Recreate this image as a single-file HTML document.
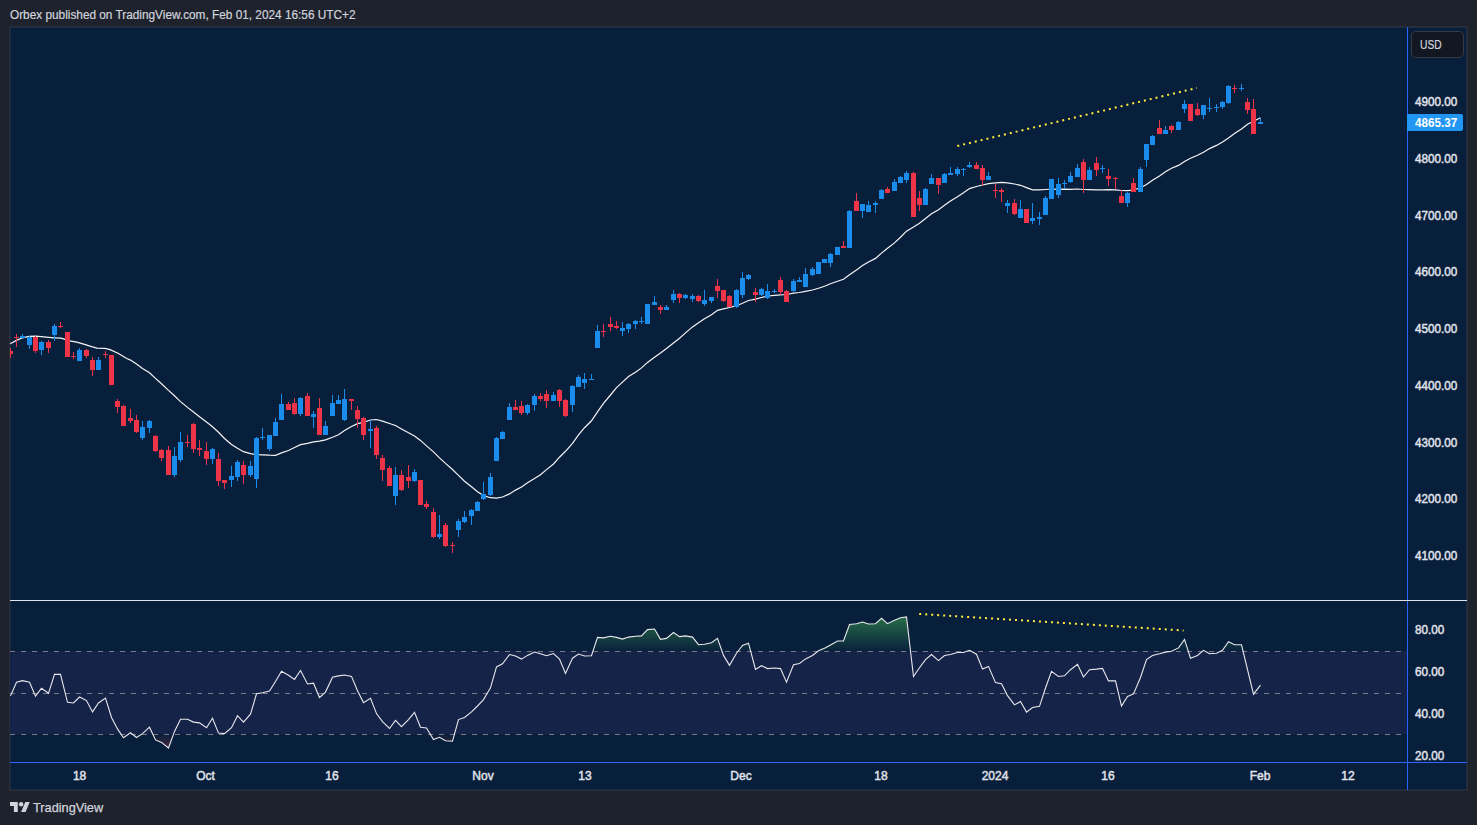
<!DOCTYPE html>
<html><head><meta charset="utf-8">
<style>
html,body{margin:0;padding:0;}
body{width:1477px;height:825px;background:#1e222d;position:relative;overflow:hidden;font-family:"Liberation Sans",sans-serif;}
.hdr{position:absolute;left:10px;top:8px;font-size:12.5px;color:#d1d4dc;white-space:nowrap;transform-origin:0 0;transform:scaleX(0.945);-webkit-text-stroke:0.2px #d1d4dc;}
.frame{position:absolute;left:9px;top:26px;width:1459px;height:765px;box-sizing:border-box;border:1px solid #2a2e39;background:#081f3b;box-shadow:inset 0 0 0 1px #1c2a42;}
.tl{position:absolute;top:769px;width:60px;text-align:center;color:#e0e3eb;font-size:12px;-webkit-text-stroke:0.45px #e0e3eb;}
.pl{position:absolute;left:1414.6px;color:#e0e3eb;font-size:12px;line-height:14px;transform-origin:0 0;transform:scaleX(0.975);-webkit-text-stroke:0.45px #e0e3eb;}
.usd{position:absolute;left:1410.5px;top:30.5px;width:53px;height:27px;border:1px solid #363a45;border-radius:5px;background:#131722;box-sizing:border-box;}
.usd span{position:absolute;left:8px;top:5.5px;color:#d1d4dc;font-size:13px;transform-origin:0 0;transform:scaleX(0.79);-webkit-text-stroke:0.2px #d1d4dc;}
.last{position:absolute;left:1407px;top:114px;width:56px;height:17px;background:#2196f3;border-radius:0 2px 2px 0;}
.last span{position:absolute;left:7.6px;top:1.5px;color:#fff;font-size:12px;font-weight:bold;transform-origin:0 0;transform:scaleX(0.975);}
.foot{position:absolute;left:33px;top:799.5px;color:#d1d4dc;font-size:13px;transform-origin:0 0;transform:scaleX(0.98);-webkit-text-stroke:0.25px #d1d4dc;}
svg{position:absolute;left:0;top:0;}
</style></head>
<body>
<div class="hdr">Orbex published on TradingView.com, Feb 01, 2024 16:56 UTC+2</div>
<div class="frame"></div>
<svg width="1477" height="825" viewBox="0 0 1477 825">
<defs><clipPath id="cp"><rect x="10" y="27" width="1397" height="735"/></clipPath></defs>
<g clip-path="url(#cp)">
<rect x="10" y="651" width="1397" height="83" fill="#162349"/>
<line x1="10" y1="651.5" x2="1407" y2="651.5" stroke="#787b86" stroke-width="1" stroke-dasharray="5 6"/>
<line x1="10" y1="693.5" x2="1407" y2="693.5" stroke="#787b86" stroke-width="1" stroke-dasharray="5 6"/>
<line x1="10" y1="734.5" x2="1407" y2="734.5" stroke="#787b86" stroke-width="1" stroke-dasharray="5 6"/>
<defs><linearGradient id="gg" gradientUnits="userSpaceOnUse" x1="0" y1="616" x2="0" y2="652"><stop offset="0" stop-color="#2e7d4a" stop-opacity="0.85"/><stop offset="1" stop-color="#2e7d4a" stop-opacity="0.0"/></linearGradient><linearGradient id="rg" gradientUnits="userSpaceOnUse" x1="0" y1="734" x2="0" y2="750"><stop offset="0" stop-color="#5a2a3a" stop-opacity="0"/><stop offset="1" stop-color="#5a2a3a" stop-opacity="0.8"/></linearGradient></defs>
<polygon points="592.9,651.3 597.5,637.4 603.5,637.9 610.5,636.2 616.5,637.4 622.5,639.1 628.5,637.1 635.5,636.2 641.5,635.9 647.5,629.6 654.5,629.0 660.5,639.3 666.5,638.4 673.5,632.5 679.5,636.6 685.5,635.9 692.5,637.1 698.5,644.7 704.5,644.2 711.5,642.7 717.5,638.4 722.1,651.3 722.1,651.3 592.9,651.3" fill="url(#gg)"/>
<polygon points="738.0,651.3 742.5,645.4 748.5,643.2 750.7,651.3 750.7,651.3 738.0,651.3" fill="url(#gg)"/>
<polygon points="817.8,651.3 818.5,650.8 824.5,648.2 830.5,644.9 837.5,641.0 843.5,641.0 849.5,624.5 856.5,623.7 862.5,622.0 868.5,624.0 875.5,623.7 881.5,618.3 887.5,623.7 894.5,620.3 900.5,617.8 906.5,616.9 910.5,651.3 910.5,651.3 817.8,651.3" fill="url(#gg)"/>
<polygon points="966.7,651.3 969.5,650.3 971.4,651.3 971.4,651.3 966.7,651.3" fill="url(#gg)"/>
<polygon points="1171.4,651.3 1171.5,651.3 1178.5,647.9 1184.5,639.4 1188.3,651.3 1188.3,651.3 1171.4,651.3" fill="url(#gg)"/>
<polygon points="1202.3,651.3 1203.5,650.3 1205.3,651.3 1205.3,651.3 1202.3,651.3" fill="url(#gg)"/>
<polygon points="1220.5,651.3 1222.5,650.3 1228.5,641.8 1234.5,644.8 1241.5,644.8 1243.1,651.3 1243.1,651.3 1220.5,651.3" fill="url(#gg)"/>
<polygon points="121.4,734.6 123.5,737.7 127.9,734.6 127.9,734.6 121.4,734.6" fill="url(#rg)"/>
<polygon points="132.8,734.6 136.5,737.5 141.0,734.6 141.0,734.6 132.8,734.6" fill="url(#rg)"/>
<polygon points="153.0,734.6 155.5,739.9 161.5,742.4 168.5,748.0 173.3,734.6 173.3,734.6 153.0,734.6" fill="url(#rg)"/>
<polygon points="430.5,734.6 433.5,739.5 439.5,737.3 445.5,740.7 452.5,741.2 454.3,734.6 454.3,734.6 430.5,734.6" fill="url(#rg)"/>
<polyline points="10.5,695.9 16.5,682.3 22.5,680.6 29.5,682.3 35.5,696.2 41.5,688.2 48.5,693.3 54.5,674.4 60.5,674.4 67.5,702.3 73.5,703.0 79.5,697.0 86.5,700.6 92.5,711.9 98.5,703.0 105.5,698.1 111.5,717.5 117.5,728.9 123.5,737.7 130.5,732.8 136.5,737.5 142.5,733.6 149.5,727.2 155.5,739.9 161.5,742.4 168.5,748.0 174.5,731.4 180.5,719.2 187.5,719.2 193.5,722.1 199.5,722.9 206.5,727.7 212.5,718.2 218.5,733.1 224.5,733.6 231.5,727.7 237.5,715.7 243.5,722.1 250.5,714.2 256.5,693.8 262.5,692.8 269.5,691.1 275.5,681.5 281.5,671.3 288.5,675.2 294.5,679.4 300.5,670.5 307.5,684.0 313.5,683.2 319.5,697.5 325.5,692.1 332.5,677.2 338.5,675.9 344.5,675.0 351.5,676.4 357.5,690.8 363.5,702.6 370.5,698.4 376.5,713.6 382.5,721.6 389.5,728.5 395.5,720.4 401.5,726.7 408.5,719.6 414.5,712.4 420.5,727.2 426.5,728.0 433.5,739.5 439.5,737.3 445.5,740.7 452.5,741.2 458.5,719.6 464.5,717.5 471.5,711.9 477.5,706.0 483.5,699.6 490.5,687.9 496.5,666.9 502.5,663.8 509.5,654.5 515.5,656.0 521.5,659.1 527.5,655.4 534.5,652.0 540.5,653.7 546.5,655.7 553.5,653.5 559.5,659.1 565.5,673.5 572.5,658.2 578.5,654.0 584.5,656.0 591.5,655.7 597.5,637.4 603.5,637.9 610.5,636.2 616.5,637.4 622.5,639.1 628.5,637.1 635.5,636.2 641.5,635.9 647.5,629.6 654.5,629.0 660.5,639.3 666.5,638.4 673.5,632.5 679.5,636.6 685.5,635.9 692.5,637.1 698.5,644.7 704.5,644.2 711.5,642.7 717.5,638.4 723.5,655.4 729.5,665.3 736.5,653.2 742.5,645.4 748.5,643.2 755.5,669.4 761.5,665.7 767.5,668.6 774.5,668.0 780.5,668.6 786.5,682.1 793.5,664.7 799.5,663.5 805.5,658.9 812.5,655.5 818.5,650.8 824.5,648.2 830.5,644.9 837.5,641.0 843.5,641.0 849.5,624.5 856.5,623.7 862.5,622.0 868.5,624.0 875.5,623.7 881.5,618.3 887.5,623.7 894.5,620.3 900.5,617.8 906.5,616.9 913.5,676.5 919.5,667.7 925.5,659.6 931.5,654.5 938.5,660.6 944.5,655.5 950.5,654.5 957.5,652.5 963.5,652.5 969.5,650.3 976.5,654.2 982.5,669.1 988.5,666.4 995.5,682.6 1001.5,683.8 1007.5,695.6 1014.5,704.9 1020.5,701.6 1026.5,712.1 1032.5,707.5 1039.5,706.3 1045.5,688.0 1051.5,671.4 1058.5,676.5 1064.5,675.8 1070.5,669.7 1077.5,664.3 1083.5,677.0 1089.5,669.7 1096.5,669.1 1102.5,668.4 1108.5,680.9 1115.5,680.9 1121.5,706.1 1127.5,696.5 1133.5,693.9 1140.5,677.5 1146.5,659.6 1152.5,655.5 1159.5,653.8 1165.5,652.1 1171.5,651.3 1178.5,647.9 1184.5,639.4 1190.5,658.2 1197.5,655.4 1203.5,650.3 1209.5,653.7 1216.5,653.3 1222.5,650.3 1228.5,641.8 1234.5,644.8 1241.5,644.8 1253.5,694.2 1260.5,685.2" fill="none" stroke="#e8e8ec" stroke-width="1.1" stroke-linejoin="miter"/>
<line x1="957.3" y1="146" x2="1196.8" y2="87.9" stroke="#ffeb3b" stroke-width="2" stroke-dasharray="2 4"/>
<line x1="919.2" y1="613.9" x2="1183.6" y2="630.5" stroke="#ffeb3b" stroke-width="2" stroke-dasharray="2 4"/>
<polyline points="10.2,343.7 16.4,340.4 22.5,337.8 29.1,336.4 35.3,336.2 41.5,336.7 48.5,337.3 54.7,337.8 60.8,338.2 64.3,339.1 69.6,340.8 76.7,342.2 84.6,344.4 91.6,346.6 96.9,348.1 104.8,348.3 110.1,349.6 118.0,353.2 126.8,358.5 130.5,360.1 136.5,364.0 142.5,368.5 149.5,372.7 155.5,378.4 161.5,383.8 168.5,390.4 174.5,395.8 180.5,401.6 187.5,407.4 193.5,412.0 199.5,416.7 206.5,422.1 212.5,426.8 218.5,432.3 224.5,438.5 231.5,444.5 237.5,448.3 243.5,451.7 250.5,453.7 256.5,454.6 262.5,454.8 269.5,455.2 275.5,455.3 281.5,452.9 288.5,450.5 294.5,447.5 300.5,444.6 307.5,443.3 313.5,441.8 319.5,441.1 325.5,439.9 332.5,437.2 338.5,434.7 344.5,430.6 351.5,426.5 357.5,423.6 363.5,422.3 370.5,420.0 376.5,419.5 382.5,421.1 389.5,423.5 395.5,425.5 401.5,428.9 408.5,432.8 414.5,435.9 420.5,440.4 426.5,445.9 433.5,451.9 439.5,457.9 445.5,463.4 452.5,469.5 458.5,475.4 464.5,481.2 471.5,486.8 477.5,491.8 483.5,495.6 490.5,497.7 496.5,498.2 502.5,497.0 509.5,493.9 515.5,490.1 521.5,487.0 527.5,482.7 534.5,478.5 540.5,474.8 546.5,469.6 553.5,464.0 559.5,457.2 565.5,451.3 572.5,443.3 578.5,434.8 584.5,427.7 591.5,420.8 597.5,411.9 603.5,403.4 610.5,395.0 616.5,387.6 622.5,382.1 628.5,376.6 635.5,372.3 641.5,367.9 647.5,362.4 654.5,357.3 660.5,353.0 666.5,348.4 673.5,343.0 679.5,338.2 685.5,332.9 692.5,326.9 698.5,322.7 704.5,318.8 711.5,314.7 717.5,310.3 723.5,308.8 729.5,307.5 736.5,305.7 742.5,303.2 748.5,300.5 755.5,299.1 761.5,297.5 767.5,296.0 774.5,295.4 780.5,294.9 786.5,294.5 793.5,293.2 799.5,292.5 805.5,291.3 812.5,290.0 818.5,288.3 824.5,286.2 830.5,283.8 837.5,281.3 843.5,279.2 849.5,274.7 856.5,269.9 862.5,265.6 868.5,262.0 875.5,258.4 881.5,253.1 887.5,248.3 894.5,242.9 900.5,237.2 906.5,231.2 913.5,227.0 919.5,223.2 925.5,218.6 931.5,213.8 938.5,209.7 944.5,205.2 950.5,200.9 957.5,196.7 963.5,192.8 969.5,188.6 976.5,186.5 982.5,185.0 988.5,183.6 995.5,182.9 1001.5,182.3 1007.5,182.9 1014.5,184.0 1020.5,185.3 1026.5,187.6 1032.5,189.9 1039.5,189.9 1045.5,189.5 1051.5,189.0 1058.5,189.3 1064.5,189.2 1070.5,189.3 1077.5,189.0 1083.5,189.5 1089.5,189.6 1096.5,189.8 1102.5,189.8 1108.5,189.7 1115.5,189.9 1121.5,190.5 1127.5,190.6 1133.5,190.0 1140.5,187.8 1146.5,184.5 1152.5,180.2 1159.5,176.0 1165.5,171.7 1171.5,168.3 1178.5,165.4 1184.5,161.4 1190.5,158.3 1197.5,155.3 1203.5,152.2 1209.5,148.6 1216.5,145.4 1222.5,142.0 1228.5,137.9 1234.5,133.5 1241.5,128.9 1247.5,124.2 1253.5,121.3 1260.5,117.8" fill="none" stroke="#f4f4f6" stroke-width="1.2"/>
<path d="M10 348h1v10h-1z M8 351h5v3h-5z M16 334h1v13h-1z M14 337h5v1h-5z M35 336h1v17h-1z M33 337h5v14h-5z M48 340h1v13h-1z M46 342h5v6h-5z M60 322h1v6h-1z M58 326h5v1h-5z M67 332h1v25h-1z M65 332h5v25h-5z M73 352h1v7h-1z M71 356h5v1h-5z M86 349h1v9h-1z M84 350h5v6h-5z M92 357h1v19h-1z M90 360h5v10h-5z M105 351h1v7h-1z M103 354h5v1h-5z M111 355h1v30h-1z M109 355h5v30h-5z M117 399h1v14h-1z M115 401h5v6h-5z M123 405h1v21h-1z M121 406h5v20h-5z M130 409h1v14h-1z M128 418h5v3h-5z M136 415h1v18h-1z M134 420h5v12h-5z M155 435h1v17h-1z M153 436h5v15h-5z M161 449h1v12h-1z M159 450h5v8h-5z M168 446h1v29h-1z M166 450h5v25h-5z M187 435h1v12h-1z M185 442h5v1h-5z M193 423h1v30h-1z M191 424h5v25h-5z M199 440h1v16h-1z M197 448h5v2h-5z M206 442h1v23h-1z M204 451h5v8h-5z M218 453h1v33h-1z M216 459h5v22h-5z M224 480h1v9h-1z M222 480h5v3h-5z M243 461h1v23h-1z M241 465h5v10h-5z M288 402h1v8h-1z M286 404h5v6h-5z M294 398h1v17h-1z M292 403h5v11h-5z M307 393h1v23h-1z M305 396h5v20h-5z M319 398h1v37h-1z M317 408h5v27h-5z M351 399h1v11h-1z M349 399h5v2h-5z M357 406h1v22h-1z M355 410h5v9h-5z M363 417h1v23h-1z M361 418h5v17h-5z M376 426h1v33h-1z M374 428h5v27h-5z M382 455h1v26h-1z M380 458h5v12h-5z M389 466h1v20h-1z M387 468h5v18h-5z M401 470h1v21h-1z M399 475h5v15h-5z M408 465h1v23h-1z M406 477h5v4h-5z M420 480h1v25h-1z M418 480h5v25h-5z M426 501h1v8h-1z M424 504h5v3h-5z M433 508h1v30h-1z M431 512h5v25h-5z M445 523h1v24h-1z M443 525h5v21h-5z M452 542h1v11h-1z M450 545h5v1h-5z M515 400h1v10h-1z M513 407h5v3h-5z M521 401h1v14h-1z M519 406h5v7h-5z M540 393h1v8h-1z M538 396h5v3h-5z M546 390h1v18h-1z M544 394h5v7h-5z M559 389h1v18h-1z M557 390h5v11h-5z M565 399h1v18h-1z M563 400h5v16h-5z M603 324h1v13h-1z M601 331h5v1h-5z M610 317h1v14h-1z M608 324h5v3h-5z M616 321h1v8h-1z M614 326h5v2h-5z M660 305h1v9h-1z M658 307h5v3h-5z M679 293h1v10h-1z M677 294h5v4h-5z M698 295h1v7h-1z M696 296h5v5h-5z M717 279h1v19h-1z M715 286h5v5h-5z M723 290h1v12h-1z M721 290h5v11h-5z M729 295h1v12h-1z M727 296h5v11h-5z M755 288h1v14h-1z M753 292h5v3h-5z M780 277h1v18h-1z M778 280h5v12h-5z M786 290h1v12h-1z M784 291h5v11h-5z M843 241h1v7h-1z M841 246h5v2h-5z M856 193h1v18h-1z M854 201h5v10h-5z M887 187h1v6h-1z M885 189h5v4h-5z M913 172h1v45h-1z M911 173h5v44h-5z M919 191h1v20h-1z M917 198h5v7h-5z M938 178h1v16h-1z M936 178h5v7h-5z M976 162h1v7h-1z M974 165h5v4h-5z M982 165h1v21h-1z M980 168h5v12h-5z M995 184h1v14h-1z M993 190h5v1h-5z M1001 188h1v14h-1z M999 190h5v2h-5z M1014 199h1v16h-1z M1012 203h5v11h-5z M1026 209h1v14h-1z M1024 209h5v14h-5z M1083 159h1v34h-1z M1081 162h5v18h-5z M1096 157h1v19h-1z M1094 163h5v7h-5z M1108 169h1v17h-1z M1106 176h5v3h-5z M1115 177h1v12h-1z M1113 178h5v1h-5z M1121 190h1v13h-1z M1119 196h5v7h-5z M1133 178h1v14h-1z M1131 183h5v9h-5z M1159 120h1v14h-1z M1157 128h5v6h-5z M1171 125h1v8h-1z M1169 126h5v4h-5z M1190 104h1v17h-1z M1188 104h5v17h-5z M1197 103h1v13h-1z M1195 109h5v6h-5z M1234 85h1v8h-1z M1232 88h5v1h-5z M1247 98h1v16h-1z M1245 102h5v8h-5z M1253 99h1v35h-1z M1251 109h5v25h-5z" fill="#ed3449" shape-rendering="crispEdges"/>
<path d="M22 334h1v4h-1z M20 336h5v2h-5z M29 336h1v13h-1z M27 337h5v8h-5z M41 341h1v14h-1z M39 342h5v8h-5z M54 324h1v17h-1z M52 326h5v9h-5z M79 348h1v13h-1z M77 350h5v11h-5z M98 357h1v13h-1z M96 360h5v10h-5z M142 421h1v19h-1z M140 427h5v11h-5z M149 420h1v13h-1z M147 421h5v7h-5z M174 447h1v30h-1z M172 456h5v19h-5z M180 432h1v30h-1z M178 442h5v18h-5z M212 448h1v16h-1z M210 449h5v10h-5z M231 466h1v21h-1z M229 476h5v4h-5z M237 460h1v21h-1z M235 462h5v15h-5z M250 461h1v16h-1z M248 466h5v9h-5z M256 437h1v51h-1z M254 438h5v41h-5z M262 428h1v12h-1z M260 437h5v1h-5z M269 435h1v16h-1z M267 435h5v14h-5z M275 418h1v18h-1z M273 422h5v14h-5z M281 394h1v26h-1z M279 404h5v16h-5z M300 397h1v19h-1z M298 398h5v16h-5z M313 411h1v17h-1z M311 414h5v3h-5z M325 421h1v14h-1z M323 426h5v9h-5z M332 395h1v21h-1z M330 403h5v13h-5z M338 395h1v9h-1z M336 400h5v4h-5z M344 389h1v32h-1z M342 399h5v21h-5z M370 420h1v28h-1z M368 429h5v2h-5z M395 467h1v38h-1z M393 475h5v21h-5z M414 469h1v13h-1z M412 472h5v9h-5z M439 515h1v24h-1z M437 534h5v3h-5z M458 519h1v18h-1z M456 521h5v9h-5z M464 511h1v12h-1z M462 517h5v5h-5z M471 509h1v16h-1z M469 510h5v6h-5z M477 501h1v10h-1z M475 502h5v9h-5z M483 482h1v18h-1z M481 494h5v5h-5z M490 473h1v23h-1z M488 477h5v18h-5z M496 437h1v24h-1z M494 438h5v23h-5z M502 431h1v8h-1z M500 432h5v7h-5z M509 403h1v17h-1z M507 407h5v13h-5z M527 404h1v11h-1z M525 405h5v8h-5z M534 394h1v17h-1z M532 396h5v9h-5z M553 392h1v9h-1z M551 395h5v6h-5z M572 385h1v27h-1z M570 386h5v19h-5z M578 375h1v12h-1z M576 377h5v10h-5z M584 373h1v16h-1z M582 379h5v4h-5z M591 374h1v6h-1z M589 379h5v1h-5z M597 325h1v23h-1z M595 331h5v17h-5z M622 322h1v14h-1z M620 328h5v3h-5z M628 323h1v10h-1z M626 324h5v5h-5z M635 320h1v9h-1z M633 321h5v3h-5z M641 317h1v7h-1z M639 321h5v1h-5z M647 304h1v20h-1z M645 304h5v20h-5z M654 296h1v9h-1z M652 302h5v3h-5z M666 305h1v5h-1z M664 307h5v3h-5z M673 290h1v13h-1z M671 294h5v6h-5z M685 294h1v5h-1z M683 295h5v3h-5z M692 294h1v8h-1z M690 296h5v3h-5z M704 290h1v16h-1z M702 300h5v4h-5z M711 297h1v6h-1z M709 297h5v4h-5z M736 289h1v19h-1z M734 290h5v17h-5z M742 272h1v26h-1z M740 278h5v17h-5z M748 274h1v6h-1z M746 275h5v4h-5z M761 288h1v8h-1z M759 289h5v6h-5z M767 284h1v15h-1z M765 291h5v7h-5z M774 289h1v4h-1z M772 291h5v1h-5z M793 279h1v13h-1z M791 281h5v10h-5z M799 277h1v5h-1z M797 280h5v2h-5z M805 268h1v19h-1z M803 274h5v13h-5z M812 267h1v9h-1z M810 269h5v6h-5z M818 262h1v12h-1z M816 262h5v12h-5z M824 259h1v4h-1z M822 259h5v4h-5z M830 253h1v14h-1z M828 254h5v9h-5z M837 247h1v8h-1z M835 247h5v8h-5z M849 210h1v38h-1z M847 211h5v37h-5z M862 204h1v14h-1z M860 204h5v7h-5z M868 201h1v11h-1z M866 205h5v7h-5z M875 201h1v12h-1z M873 203h5v2h-5z M881 189h1v10h-1z M879 190h5v9h-5z M894 179h1v12h-1z M892 182h5v9h-5z M900 176h1v7h-1z M898 177h5v6h-5z M906 171h1v12h-1z M904 173h5v7h-5z M925 188h1v17h-1z M923 189h5v16h-5z M931 174h1v10h-1z M929 178h5v6h-5z M944 173h1v10h-1z M942 174h5v9h-5z M950 167h1v8h-1z M948 173h5v2h-5z M957 167h1v9h-1z M955 169h5v5h-5z M963 168h1v8h-1z M961 169h5v1h-5z M969 162h1v6h-1z M967 165h5v2h-5z M988 172h1v8h-1z M986 176h5v4h-5z M1007 200h1v13h-1z M1005 203h5v3h-5z M1020 200h1v18h-1z M1018 209h5v9h-5z M1032 203h1v21h-1z M1030 218h5v3h-5z M1039 212h1v13h-1z M1037 217h5v2h-5z M1045 196h1v19h-1z M1043 198h5v17h-5z M1051 179h1v20h-1z M1049 179h5v20h-5z M1058 178h1v20h-1z M1056 184h5v11h-5z M1064 180h1v9h-1z M1062 183h5v1h-5z M1070 172h1v11h-1z M1068 176h5v6h-5z M1077 164h1v13h-1z M1075 168h5v9h-5z M1089 167h1v13h-1z M1087 170h5v10h-5z M1102 165h1v8h-1z M1100 168h5v1h-5z M1127 192h1v15h-1z M1125 193h5v10h-5z M1140 167h1v25h-1z M1138 169h5v23h-5z M1146 144h1v23h-1z M1144 144h5v16h-5z M1152 135h1v10h-1z M1150 136h5v9h-5z M1165 126h1v8h-1z M1163 130h5v4h-5z M1178 121h1v9h-1z M1176 122h5v8h-5z M1184 100h1v13h-1z M1182 104h5v5h-5z M1203 105h1v14h-1z M1201 105h5v10h-5z M1209 98h1v14h-1z M1207 108h5v1h-5z M1216 104h1v8h-1z M1214 107h5v1h-5z M1222 101h1v8h-1z M1220 102h5v5h-5z M1228 85h1v19h-1z M1226 86h5v17h-5z M1241 84h1v7h-1z M1239 88h5v1h-5z M1260 118h1v6h-1z M1258 122h5v2h-5z" fill="#1a8dec" shape-rendering="crispEdges"/>
</g>
<rect x="1407" y="27" width="1" height="763" fill="#2962ff"/>
<rect x="10" y="600" width="1457" height="1" fill="#e0e3eb"/>
<rect x="10" y="762" width="1457" height="1" fill="#2962ff"/>
<g transform="translate(10,799.8) scale(0.5556)" fill="#d1d4dc"><path d="M14 22H7V11H0V4h14v18zM28 22h-8l7.5-18h8L28 22z"/><circle cx="20" cy="8" r="4"/></g>
</svg>
<div class="usd"><span>USD</span></div>
<div class="last"><span>4865.37</span></div>
<div class="pl" style="top:94.8px">4900.00</div>
<div class="pl" style="top:152.0px">4800.00</div>
<div class="pl" style="top:208.8px">4700.00</div>
<div class="pl" style="top:264.9px">4600.00</div>
<div class="pl" style="top:322.0px">4500.00</div>
<div class="pl" style="top:378.8px">4400.00</div>
<div class="pl" style="top:435.6px">4300.00</div>
<div class="pl" style="top:492.4px">4200.00</div>
<div class="pl" style="top:549.2px">4100.00</div>
<div class="pl" style="top:623.4px">80.00</div>
<div class="pl" style="top:665.0px">60.00</div>
<div class="pl" style="top:706.6px">40.00</div>
<div class="pl" style="top:748.6px">20.00</div>
<div class="tl" style="left:49.6px">18</div>
<div class="tl" style="left:175.6px">Oct</div>
<div class="tl" style="left:302.0px">16</div>
<div class="tl" style="left:453.0px">Nov</div>
<div class="tl" style="left:555.0px">13</div>
<div class="tl" style="left:711.0px">Dec</div>
<div class="tl" style="left:851.0px">18</div>
<div class="tl" style="left:965.0px">2024</div>
<div class="tl" style="left:1078.0px">16</div>
<div class="tl" style="left:1230.0px">Feb</div>
<div class="tl" style="left:1318.0px">12</div>
<div class="foot">TradingView</div>
</body></html>
